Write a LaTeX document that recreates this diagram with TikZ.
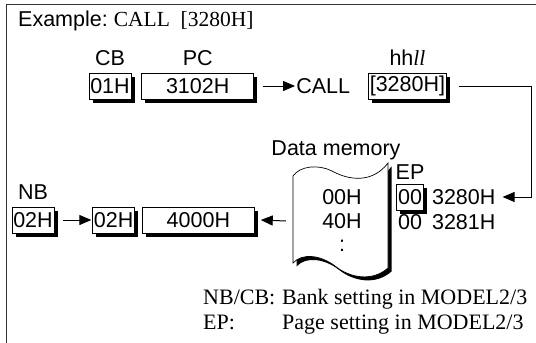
\documentclass[tikz,border=0pt]{standalone}
\usepackage{fontspec}
\setmainfont{Liberation Serif}
\setsansfont{Liberation Sans}
\usetikzlibrary{arrows.meta, positioning, shadows}

\begin{document}
\begin{tikzpicture}[x=1pt, y=-1pt, node distance=5pt and 10pt, >={Triangle[length=12pt,width=10pt]}, font=\sffamily\fontsize{21.5}{25}\selectfont]
    \tikzstyle{reg} = [rectangle, draw, fill=white, line width=0.7pt, minimum height=26pt, inner xsep=1.2pt, inner ysep=0pt, drop shadow={shadow xshift=3.5pt, shadow yshift=-3.5pt, fill=black, opacity=1}]
    \tikzstyle{lbl} = [inner sep=0pt]
    \tikzstyle{note} = [font=\rmfamily\fontsize{22}{26}\selectfont, inner sep=0pt, anchor=base west]
    \tikzstyle{conn} = [line width=1pt]

    \useasboundingbox (0,0) rectangle (536,343);
    \draw [line width=1pt, black!80] (536,4.5) -- (6,4.5) -- (6,343);

    % Nodes
    \node [lbl, anchor=west] (title) at (18,21) {Example:\ \rmfamily CALL~~[3280H]};

    \node [reg, minimum width=42pt] (cb) at (110,86) {01H};
    \node [reg, minimum width=112pt, right=10pt of cb] (pc) {3102H};
    \node [lbl, above=7pt of cb] (cblbl) {CB};
    \node [lbl, above=7pt of pc] (pclbl) {PC};
    \node [lbl, right=42pt of pc] (call) {CALL};
    \node [reg, right=18pt of call] (addr) {[3280H]};
    \node [lbl, above=7pt of addr] (hhll) {hh{\rmfamily\itshape ll}};
    \coordinate (turn) at (531,0);

    \node [reg, minimum width=42pt] (nb) at (33,220) {02H};
    \node [lbl, above=7pt of nb] (nblbl) {NB};
    \node [reg, minimum width=42pt, right=38pt of nb] (nbb) {02H};
    \node [reg, minimum width=112pt, right=7pt of nbb] (pcb) {4000H};

    % data memory sheet
    \fill [black, xshift=3.5pt, yshift=-3.5pt] (293,176) .. controls (300,166) and (318,164) .. (332,171) .. controls (348,180) and (372,184) .. (388,163) -- (388,268) .. controls (372,282) and (350,278) .. (335,266) .. controls (322,256) and (303,252) .. (293,263) -- cycle;
    \draw [line width=0.7pt, fill=white] (293,176) .. controls (300,166) and (318,164) .. (332,171) .. controls (348,180) and (372,184) .. (388,163) -- (388,268) .. controls (372,282) and (350,278) .. (335,266) .. controls (322,256) and (303,252) .. (293,263) -- cycle;
    \node [lbl] (dmlbl) at (336,150) {Data memory};
    \node [lbl] (m00) at (342,197) {00H};
    \node [lbl] (m40) at (342,221) {40H};
    \node [lbl] (mdots) at (342,246) {:};
    \coordinate (memleft) at (293,221);

    \node [lbl] (eplbl) at (410,172) {EP};
    \node [reg, minimum width=27pt] (ep) at (410,197) {00};
    \node [lbl, right=8pt of ep] (ea) {3280H};
    \node [lbl, below=9pt of ea] (eb) {3281H};
    \node [lbl] (ep2) at (ep |- eb) {00};

    \node [note] (nbcb) at (203,304) {NB/CB:};
    \node [note] (bank) at (282,304) {Bank setting in MODEL2/3};
    \node [note] (epn) at (203,329) {EP:};
    \node [note] (page) at (282,329) {Page setting in MODEL2/3};

    % Connections
    \draw [->, conn] ([xshift=9pt]pc.east) -- ([xshift=-1pt]call.west);
    \draw [->, conn] ([xshift=12pt]addr.east) -- (addr.east -| turn) |- ([xshift=7pt]ea.east);
    \draw [->, conn] ([xshift=-7pt]memleft) -- ([xshift=6pt]pcb.east);
    \draw [->, conn] ([xshift=9pt]nb.east) -- ([xshift=-1pt]nbb.west);
  \end{tikzpicture}
\end{document}
